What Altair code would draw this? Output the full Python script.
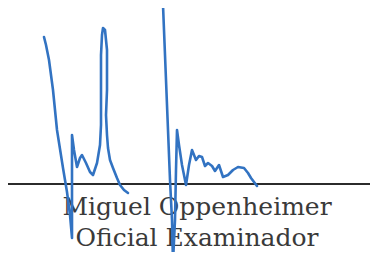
import altair as alt
import pandas as pd

# Signature strokes (page pixel coordinates)
s1_x = [44, 46, 49, 53, 57, 63, 67, 70, 72, 72, 72, 72, 74, 77, 80, 82, 86, 90, 93, 97, 100, 101, 101, 101, 102, 103, 105, 107, 107, 106, 107, 108, 110, 113, 117, 120, 124, 128]
s1_y = [37, 45, 60, 90, 130, 168, 192, 215, 238, 200, 160, 135, 150, 167, 158, 155, 163, 172, 175, 163, 145, 125, 90, 55, 35, 28, 30, 50, 90, 115, 135, 148, 160, 168, 178, 185, 190, 193]

s2_x = [163, 164, 166, 168, 170, 172, 173, 175, 176, 177, 179, 182, 186, 189, 192, 196, 199, 202, 205, 208, 212, 215, 219, 223, 228, 233, 238, 244, 248, 251, 257]
s2_y = [5, 30, 80, 130, 180, 220, 262, 220, 170, 130, 145, 165, 185, 165, 150, 160, 156, 157, 166, 163, 166, 171, 165, 177, 175, 170, 167, 168, 173, 178, 186]

baseline_x = [7, 378]
baseline_y = [184, 184]

name_lines = ["Miguel Oppenheimer", "Oficial Examinador"]
name_y = [215, 246]
name_x = [197, 197]

W, H = 362, 244
xs = alt.Scale(domain=[8, 8 + W], range=[0, W])
ys = alt.Scale(domain=[8, 8 + H], range=[0, H])

rows = []
for i, (x, y) in enumerate(zip(s1_x, s1_y)):
    rows.append({"x": x, "y": y, "stroke": "s1", "o": i})
for i, (x, y) in enumerate(zip(s2_x, s2_y)):
    rows.append({"x": x, "y": y, "stroke": "s2", "o": i})
sig = pd.DataFrame(rows)

base_df = pd.DataFrame({"x": baseline_x, "y": baseline_y})
text_df = pd.DataFrame({"x": name_x, "y": name_y, "t": name_lines})

rule = alt.Chart(base_df).mark_line(color="#2b2b2b", strokeWidth=2).encode(
    x=alt.X("x:Q", scale=xs, axis=None),
    y=alt.Y("y:Q", scale=ys, axis=None),
)

text = alt.Chart(text_df).mark_text(
    font="DejaVu Serif", fontSize=25, color="#3a3a3a", align="center", baseline="alphabetic"
).encode(
    x=alt.X("x:Q", scale=xs, axis=None),
    y=alt.Y("y:Q", scale=ys, axis=None),
    text="t:N",
)

lines = alt.Chart(sig).mark_line(color="#3273c2", strokeWidth=2.6, interpolate="linear", strokeCap="round", strokeJoin="round").encode(
    x=alt.X("x:Q", scale=xs, axis=None),
    y=alt.Y("y:Q", scale=ys, axis=None),
    detail="stroke:N",
    order="o:Q",
)

chart = alt.layer(rule, text, lines).properties(
    width=W, height=H, padding=0, autosize=alt.AutoSizeParams(type="none"), background="white"
).configure_view(stroke=None)

chart.save("out.html", embed_options={"renderer": "svg", "actions": False})
